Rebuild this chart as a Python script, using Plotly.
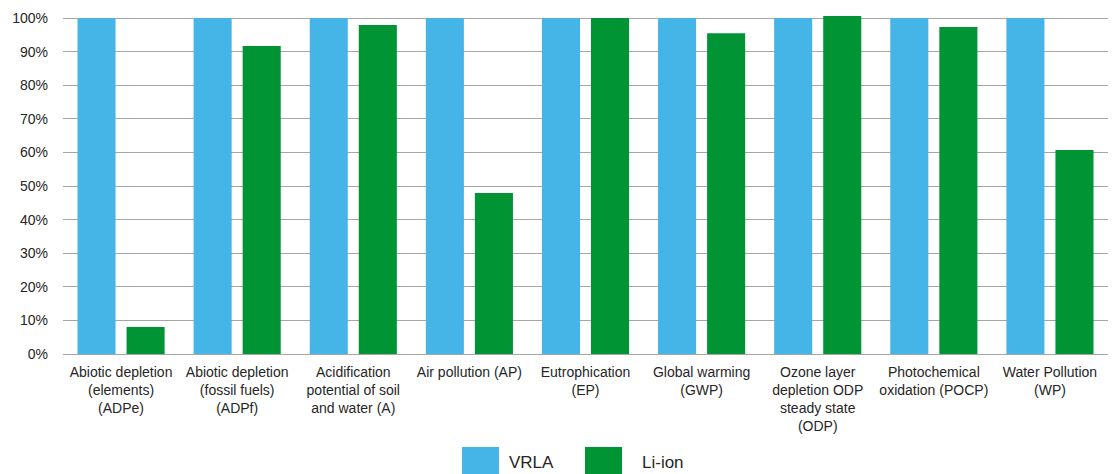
import plotly.graph_objects as go

# Impact categories (multi-line axis labels)
categories = [
    "Abiotic depletion<br>(elements)<br>(ADPe)",
    "Abiotic depletion<br>(fossil fuels)<br>(ADPf)",
    "Acidification<br>potential of soil<br>and water (A)",
    "Air pollution (AP)",
    "Eutrophication<br>(EP)",
    "Global warming<br>(GWP)",
    "Ozone layer<br>depletion ODP<br>steady state<br>(ODP)",
    "Photochemical<br>oxidation (POCP)",
    "Water Pollution<br>(WP)",
]

# Relative impact, VRLA = 100 %
vrla = [1.00, 1.00, 1.00, 1.00, 1.00, 1.00, 1.00, 1.00, 1.00]
li_ion = [0.080, 0.917, 0.979, 0.479, 1.000, 0.955, 1.006, 0.973, 0.607]

series_names = ["VRLA", "Li-ion"]
series_colors = ["#45B4E6", "#009434"]

tick_vals = [i / 10 for i in range(11)]
tick_text = [f"{i * 10}%" for i in range(11)]

fig = go.Figure()
for name, vals, col in zip(series_names, [vrla, li_ion], series_colors):
    fig.add_trace(go.Bar(
        x=categories, y=vals, name=name,
        marker=dict(color=col, line=dict(width=0)),
        showlegend=False,
    ))

font_family = "Liberation Sans, Arial, sans-serif"

fig.update_layout(
    width=1113, height=474,
    margin=dict(l=63, r=5, t=16, b=120, autoexpand=False),
    paper_bgcolor="white", plot_bgcolor="white",
    barmode="group", bargap=0.155, bargroupgap=0.224,
    font=dict(family=font_family, size=14, color="#262626"),
    xaxis=dict(
        showgrid=False, showline=True, linecolor="#A6A6A6", linewidth=1,
        ticks="", tickangle=0, automargin=False, ticklabelstandoff=5,
        tickfont=dict(size=14, color="#262626"),
    ),
    yaxis=dict(
        range=[0, 1.006], tickvals=tick_vals, ticktext=tick_text,
        showgrid=True, gridcolor="#A6A6A6", gridwidth=1,
        zeroline=False, showline=False, ticks="", automargin=False,
        ticklabelstandoff=14,
        tickfont=dict(size=14, color="#262626"),
    ),
)

# Legend: swatch + label, centred below the plot
plot_l, plot_w, plot_b, plot_h = 63, 1045, 354, 338


def px_x(x):
    return (x - plot_l) / plot_w


def px_y(y):
    return (plot_b - y) / plot_h


legend_items = [(462, 507), (585, 640)]
for (sx, tx), name, col in zip(legend_items, series_names, series_colors):
    fig.add_shape(
        type="rect", xref="paper", yref="paper",
        x0=px_x(sx), x1=px_x(sx + 37), y0=px_y(476), y1=px_y(447),
        fillcolor=col, line=dict(width=0),
    )
    fig.add_annotation(
        xref="paper", yref="paper", x=px_x(tx), y=px_y(462),
        text=name, showarrow=False, xanchor="left", yanchor="middle",
        font=dict(size=17, color="#262626", family=font_family),
    )

fig.write_html("out.html")
